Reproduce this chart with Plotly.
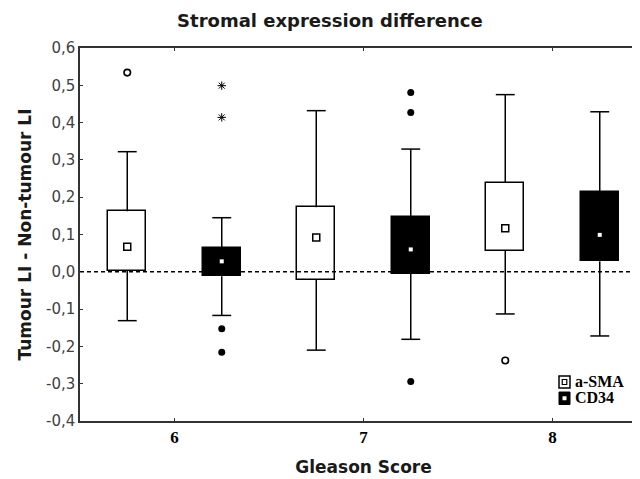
import plotly.graph_objects as go

# ---- data ----
groups = [6, 7, 8]
series_names = ["a-SMA", "CD34"]
offsets = [-0.25, 0.25]

asma_q1 = [0.003, -0.021, 0.056]
asma_q3 = [0.162, 0.173, 0.239]
asma_mid = [0.067, 0.092, 0.117]
asma_low = [-0.131, -0.210, -0.113]
asma_high = [0.322, 0.432, 0.475]
asma_out_x = [6, 8]
asma_out_y = [0.534, -0.238]

cd34_q1 = [-0.012, -0.005, 0.028]
cd34_q3 = [0.064, 0.148, 0.215]
cd34_mid = [0.028, 0.060, 0.099]
cd34_low = [-0.117, -0.181, -0.172]
cd34_high = [0.145, 0.329, 0.429]
cd34_out_x = [6, 6, 7, 7, 7]
cd34_out_y = [-0.153, -0.216, 0.481, 0.427, -0.294]
cd34_ext_x = [6, 6]
cd34_ext_y = [0.499, 0.414]

ytick_vals = [0.6, 0.5, 0.4, 0.3, 0.2, 0.1, 0.0, -0.1, -0.2, -0.3, -0.4]
ytick_text = ["0,6", "0,5", "0,4", "0,3", "0,2", "0,1", "0,0", "-0,1", "-0,2", "-0,3", "-0,4"]
xtick_vals = [6, 7, 8]
xtick_text = ["6", "7", "8"]

BOX_W = 0.2
LW = 1.5
CAP = dict(symbol="line-ew", size=13.5, color="black", line=dict(color="black", width=LW))

fig = go.Figure()


def add_series(q1, q3, mid, low, high, off, fill, mid_marker):
    xs = [g + off for g in groups]
    fig.add_trace(go.Bar(
        x=xs, y=[b - a for a, b in zip(q1, q3)], base=q1, width=BOX_W,
        marker=dict(color=fill, line=dict(color="black", width=LW)),
        showlegend=False, hoverinfo="skip"))
    # upper whisker: cap marker at the whisker end, line down to the box
    fig.add_trace(go.Scatter(
        x=xs, y=high, mode="markers", marker=CAP,
        error_y=dict(type="data", symmetric=False,
                     array=[0] * len(high),
                     arrayminus=[h - b for h, b in zip(high, q3)],
                     color="black", thickness=LW, width=0),
        showlegend=False, hoverinfo="skip"))
    # lower whisker
    fig.add_trace(go.Scatter(
        x=xs, y=low, mode="markers", marker=CAP,
        error_y=dict(type="data", symmetric=False,
                     array=[a - l for a, l in zip(q1, low)],
                     arrayminus=[0] * len(low),
                     color="black", thickness=LW, width=0),
        showlegend=False, hoverinfo="skip"))
    fig.add_trace(go.Scatter(
        x=xs, y=mid, mode="markers", marker=mid_marker,
        showlegend=False, hoverinfo="skip"))


add_series(asma_q1, asma_q3, asma_mid, asma_low, asma_high, offsets[0], "white",
           dict(symbol="square", size=7, color="white", line=dict(color="black", width=1.5)))
add_series(cd34_q1, cd34_q3, cd34_mid, cd34_low, cd34_high, offsets[1], "black",
           dict(symbol="square", size=4, color="white", line=dict(width=0)))

# outliers
fig.add_trace(go.Scatter(
    x=[g + offsets[0] for g in asma_out_x], y=asma_out_y, mode="markers",
    marker=dict(symbol="circle", size=6.5, color="white", line=dict(color="black", width=1.6)),
    showlegend=False, hoverinfo="skip"))
fig.add_trace(go.Scatter(
    x=[g + offsets[1] for g in cd34_out_x], y=cd34_out_y, mode="markers",
    marker=dict(symbol="circle", size=7, color="black", line=dict(width=0)),
    showlegend=False, hoverinfo="skip"))
fig.add_trace(go.Scatter(
    x=[g + offsets[1] for g in cd34_ext_x], y=cd34_ext_y, mode="markers",
    marker=dict(symbol="asterisk-open", size=7, color="black", line=dict(color="black", width=1)),
    showlegend=False, hoverinfo="skip"))

# zero reference line
fig.add_shape(type="line", xref="paper", yref="y", x0=0, x1=1, y0=0, y1=0,
              line=dict(color="black", width=1.5, dash="4px,3px"), layer="above")

# legend (drawn manually, bottom-right inside the plot)
fig.add_shape(type="rect", xref="paper", yref="paper", x0=0.8448, x1=0.8642, y0=0.0885, y1=0.1206,
              line=dict(color="black", width=1.5), fillcolor="white")
fig.add_shape(type="rect", xref="paper", yref="paper", x0=0.8505, x1=0.8585, y0=0.0979, y1=0.1113,
              line=dict(color="black", width=1.2), fillcolor="white")
fig.add_shape(type="rect", xref="paper", yref="paper", x0=0.8448, x1=0.8642, y0=0.0442, y1=0.0777,
              line=dict(color="black", width=1), fillcolor="black")
fig.add_shape(type="rect", xref="paper", yref="paper", x0=0.8510, x1=0.8580, y0=0.0556, y1=0.0663,
              line=dict(width=0), fillcolor="white")
for name, yy in zip(series_names, [0.107, 0.0617]):
    fig.add_annotation(text="<b>" + name + "</b>", xref="paper", yref="paper", x=0.8695, y=yy,
                       xanchor="left", yanchor="middle", showarrow=False,
                       font=dict(family="Liberation Serif", size=16, color="black"))

fig.update_layout(
    width=640, height=479,
    margin=dict(l=72, r=1, t=40, b=66),
    paper_bgcolor="white", plot_bgcolor="white",
    bargap=0, barmode="overlay",
    title=dict(text="<b>Stromal expression difference</b>", x=0.503, xanchor="center",
               y=1 - 12.5 / 479, yanchor="middle",
               font=dict(family="DejaVu Sans", size=18, color="#1a1a1a")),
    showlegend=False,
)
fig.update_xaxes(
    range=[5.5, 8.5], tickvals=xtick_vals, ticktext=["<b>" + t + "</b>" for t in xtick_text],
    tickfont=dict(family="Liberation Serif", size=17, color="black"),
    ticks="inside", ticklen=3, tickwidth=1, tickcolor="#333",
    showline=True, linecolor="#333", linewidth=1.5, mirror="ticks",
    showgrid=False, zeroline=False,
    title=dict(text="<b>Gleason Score</b>", standoff=15,
               font=dict(family="DejaVu Sans", size=17, color="#1a1a1a")),
)
fig.update_yaxes(
    range=[-0.4, 0.6], tickvals=ytick_vals, ticktext=ytick_text,
    tickfont=dict(family="DejaVu Sans", size=15, color="#404040"),
    ticks="inside", ticklen=3, tickwidth=1, tickcolor="#333",
    showline=True, linecolor="#333", linewidth=1.5, mirror=False,
    showgrid=False, zeroline=False,
    title=dict(text="<b>Tumour LI - Non-tumour LI</b>", standoff=10,
               font=dict(family="DejaVu Sans", size=17, color="#1a1a1a")),
)

fig.write_html("out.html")
